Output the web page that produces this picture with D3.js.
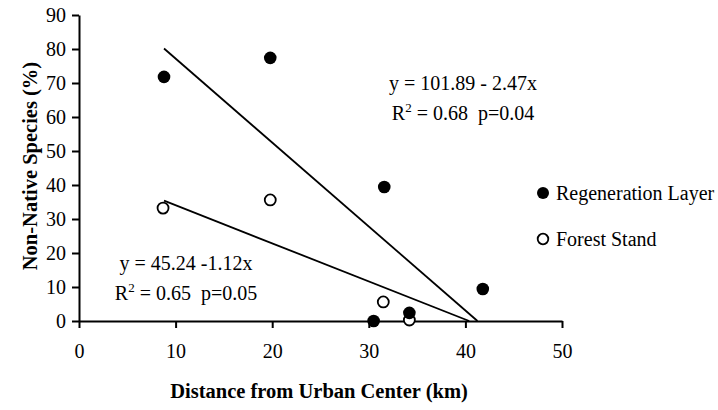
<!DOCTYPE html>
<html><head><meta charset="utf-8">
<script src="https://cdn.jsdelivr.net/npm/d3@7"></script>
<style>
body{margin:0;background:#fff;}
svg text{font-family:"Liberation Serif","Times New Roman",serif;fill:#000;}
</style></head>
<body><svg id="c" width="718" height="410"></svg>
<script>
// Data
const regenX = [8.8, 19.8, 31.6, 41.8, 34.2, 30.5];
const regenY = [71.8, 77.4, 39.4, 9.4, 2.4, 0];
const forestX = [8.7, 19.8, 31.5, 34.2];
const forestY = [33.2, 35.6, 5.6, 0.3];
const regenFit = [101.89, -2.47];
const forestFit = [45.24, -1.12];
const xTicks = [0, 10, 20, 30, 40, 50];
const yTicks = [0, 10, 20, 30, 40, 50, 60, 70, 80, 90];
const seriesNames = ["Regeneration Layer", "Forest Stand"];

const FS = 20;
const svg = d3.select("#c");
const x = d3.scaleLinear().domain([0, 50]).range([79, 562]);
const y = d3.scaleLinear().domain([0, 90]).range([321, 15]);

// axes
const yAxis = svg.append("g").attr("transform", `translate(${x(0)},0)`)
  .call(d3.axisLeft(y).tickValues(yTicks).tickSize(7).tickPadding(6).tickSizeOuter(0));
const xAxis = svg.append("g").attr("transform", `translate(0,${y(0)})`)
  .call(d3.axisBottom(x).tickValues(xTicks).tickSize(7).tickPadding(16).tickSizeOuter(0));
[xAxis, yAxis].forEach(g => {
  g.select(".domain").attr("stroke", "#000").attr("stroke-width", 2);
  g.selectAll(".tick line").attr("stroke", "#000").attr("stroke-width", 2);
  g.selectAll(".tick text").attr("font-family", "Liberation Serif").attr("font-size", FS).attr("fill", "#000");
});
yAxis.selectAll(".tick text").attr("dy", "0.34em");

// regression lines
function fitLine(fit, x0) {
  const x1 = -fit[0] / fit[1];
  return [[x0, fit[0] + fit[1] * x0], [x1, 0]];
}
const line = d3.line().x(d => x(d[0])).y(d => y(d[1]));
svg.append("path").attr("d", line(fitLine(regenFit, regenX[0])))
  .attr("stroke", "#000").attr("stroke-width", 1.8).attr("fill", "none");
svg.append("path").attr("d", line(fitLine(forestFit, regenX[0])))
  .attr("stroke", "#000").attr("stroke-width", 1.8).attr("fill", "none");

// points
svg.append("g").selectAll("circle").data(forestX.map((v, i) => [v, forestY[i]])).join("circle")
  .attr("cx", d => x(d[0])).attr("cy", d => y(d[1])).attr("r", 5.5)
  .attr("fill", "#fff").attr("stroke", "#000").attr("stroke-width", 1.8);
svg.append("g").selectAll("circle").data(regenX.map((v, i) => [v, regenY[i]])).join("circle")
  .attr("cx", d => x(d[0])).attr("cy", d => y(d[1])).attr("r", 6.3).attr("fill", "#000");

// equations
function eq(g, tx, ty, line1, r2rest) {
  g.append("text").attr("x", tx).attr("y", ty).attr("font-size", FS).attr("text-anchor", "middle").text(line1);
  const t = g.append("text").attr("x", tx).attr("y", ty + 30).attr("font-size", FS).attr("text-anchor", "middle")
    .attr("xml:space", "preserve").style("white-space", "pre");
  t.append("tspan").text("R");
  t.append("tspan").attr("dy", -8).attr("font-size", 13).text("2");
  t.append("tspan").attr("dy", 8).text(r2rest);
}
const eqG = svg.append("g");
eq(eqG, 463, 90, "y = 101.89 - 2.47x", " = 0.68  p=0.04");
eq(eqG, 186, 270, "y = 45.24 -1.12x", " = 0.65  p=0.05");

// legend
const leg = svg.append("g");
leg.append("circle").attr("cx", 543).attr("cy", 193).attr("r", 6).attr("fill", "#000");
leg.append("circle").attr("cx", 543).attr("cy", 239).attr("r", 5.3).attr("fill", "#fff").attr("stroke", "#000").attr("stroke-width", 1.8);
leg.append("text").attr("x", 556).attr("y", 200).attr("font-size", FS).text(seriesNames[0]);
leg.append("text").attr("x", 556).attr("y", 246).attr("font-size", FS).text(seriesNames[1]);

// axis titles
svg.append("text").attr("x", 319).attr("y", 398).attr("text-anchor", "middle")
  .attr("font-size", 20.5).attr("font-weight", "bold").text("Distance from Urban Center (km)");
svg.append("text").attr("transform", "translate(37,166) rotate(-90)").attr("text-anchor", "middle")
  .attr("font-size", 20.5).attr("font-weight", "bold").text("Non-Native Species (%)");
</script></body></html>
